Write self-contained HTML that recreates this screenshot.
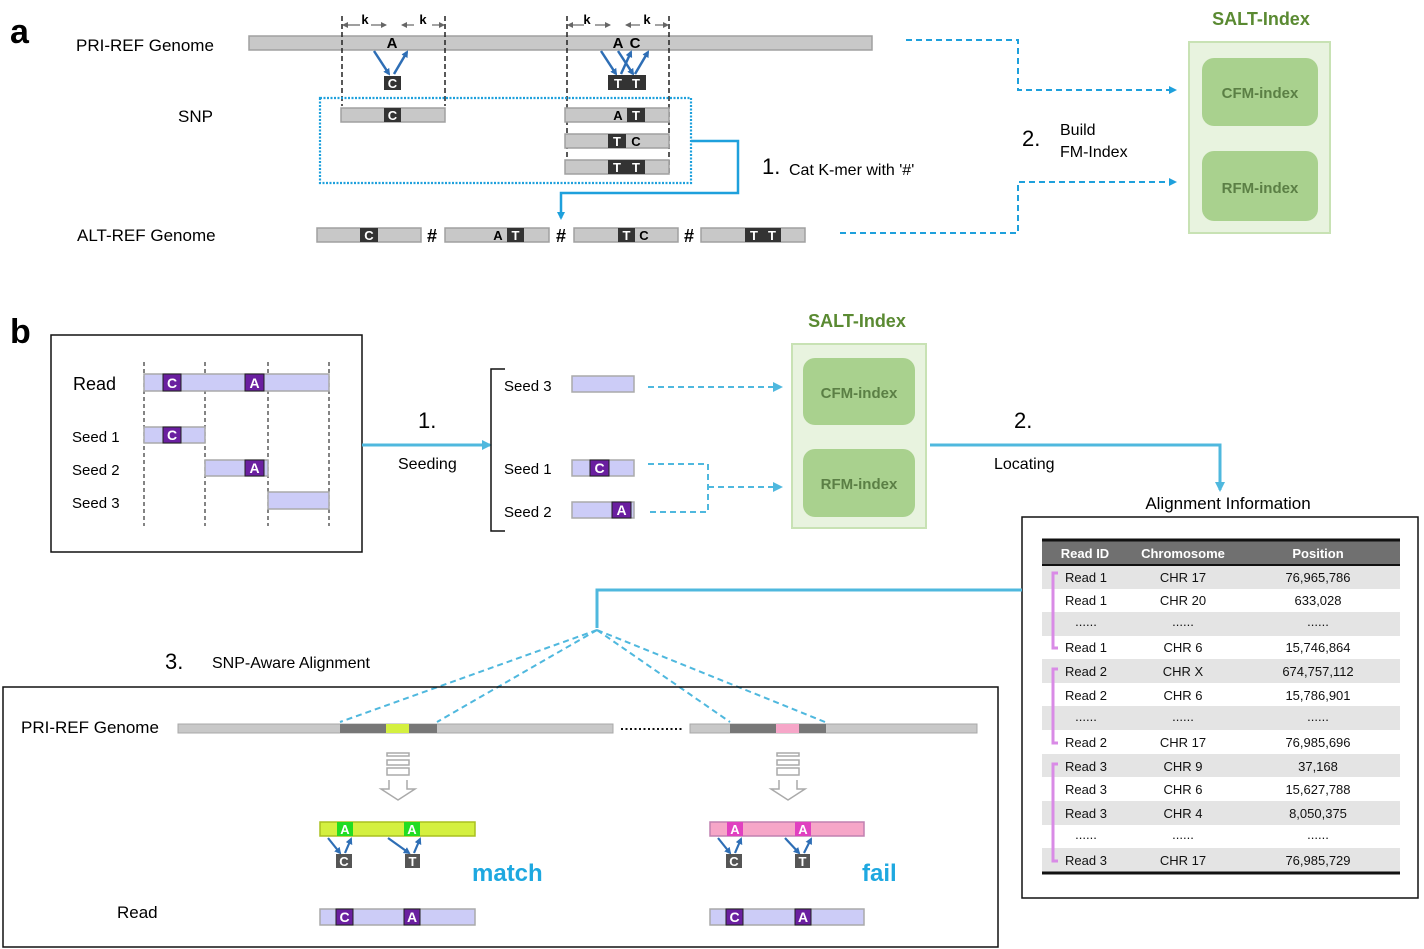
<!DOCTYPE html>
<html><head><meta charset="utf-8"><style>
html,body{margin:0;padding:0;background:#fff}
svg{display:block;font-family:"Liberation Sans",sans-serif}
</style></head><body>
<svg width="1424" height="949" viewBox="0 0 1424 949" xmlns="http://www.w3.org/2000/svg">
<defs>
<marker id="bl" markerWidth="8" markerHeight="8" refX="6" refY="4" orient="auto" markerUnits="userSpaceOnUse"><path d="M0,0 L8,4 L0,8 z" fill="#1ea0dc"/></marker>
<marker id="lb" markerWidth="10" markerHeight="10" refX="8" refY="5" orient="auto" markerUnits="userSpaceOnUse"><path d="M0,0 L10,5 L0,10 z" fill="#4fb8de"/></marker>
<marker id="db" markerWidth="7" markerHeight="7" refX="5" refY="3.5" orient="auto" markerUnits="userSpaceOnUse"><path d="M0,0 L7,3.5 L0,7 z" fill="#2e6eb5"/></marker>
<marker id="gk" markerWidth="6" markerHeight="6" refX="5" refY="3" orient="auto" markerUnits="userSpaceOnUse"><path d="M0,0 L6,3 L0,6 z" fill="#666"/></marker>
</defs>

<!-- ===== a ===== -->
<text x="10" y="43" font-size="34" font-weight="bold">a</text>
<text x="76" y="51" font-size="17">PRI-REF Genome</text>
<rect x="249" y="36" width="623" height="14" fill="#c8c8c8" stroke="#a0a0a0" stroke-width="1.5"/>
<g stroke="#222" stroke-width="1.5" stroke-dasharray="5,3">
<line x1="342" y1="16" x2="342" y2="106"/><line x1="445" y1="16" x2="445" y2="106"/>
<line x1="567" y1="16" x2="567" y2="176"/><line x1="669" y1="16" x2="669" y2="176"/>
</g>
<g stroke="#666" stroke-width="1.2" marker-end="url(#gk)">
<line x1="360" y1="25" x2="343" y2="25"/><line x1="371" y1="25" x2="386" y2="25"/>
<line x1="414" y1="25" x2="402" y2="25"/><line x1="432" y1="25" x2="444" y2="25"/>
<line x1="584" y1="25" x2="568" y2="25"/><line x1="595" y1="25" x2="610" y2="25"/>
<line x1="640" y1="25" x2="626" y2="25"/><line x1="655" y1="25" x2="668" y2="25"/>
</g>
<g font-size="13" font-weight="bold" text-anchor="middle">
<text x="365" y="24">k</text><text x="423" y="24">k</text><text x="587" y="24">k</text><text x="647" y="24">k</text>
</g>
<g font-size="15" font-weight="bold" text-anchor="middle">
<text x="392" y="48">A</text><text x="618" y="48">A</text><text x="635" y="48">C</text>
</g>
<g stroke="#2e6eb5" stroke-width="2.5" marker-end="url(#db)">
<line x1="374" y1="51" x2="389" y2="74"/><line x1="394" y1="74" x2="407" y2="52"/>
<line x1="601" y1="51" x2="616" y2="74"/><line x1="618" y1="51" x2="633" y2="74"/>
<line x1="621" y1="74" x2="631" y2="52"/><line x1="635" y1="74" x2="648" y2="52"/>
</g>
<rect x="384" y="76" width="17" height="14" fill="#333"/>
<text x="392.5" y="88" font-size="13" font-weight="bold" fill="#fff" text-anchor="middle">C</text>
<rect x="608" y="75" width="38" height="15" fill="#333"/>
<text x="618" y="88" font-size="13" font-weight="bold" fill="#fff" text-anchor="middle">T</text>
<text x="636" y="88" font-size="13" font-weight="bold" fill="#fff" text-anchor="middle">T</text>

<rect x="320" y="98" width="371" height="85" fill="none" stroke="#1ea0dc" stroke-width="2.2" stroke-dasharray="2,1.5"/>
<text x="178" y="122" font-size="17">SNP</text>
<g fill="#c8c8c8" stroke="#a0a0a0" stroke-width="1.5">
<rect x="341" y="108" width="104" height="14"/>
<rect x="565" y="108" width="104" height="14"/>
<rect x="565" y="134" width="104" height="14"/>
<rect x="565" y="160" width="104" height="14"/>
</g>
<g fill="#333">
<rect x="384" y="108" width="17" height="14"/><rect x="627" y="108" width="18" height="14"/>
<rect x="608" y="134" width="18" height="14"/><rect x="608" y="160" width="37" height="14"/>
</g>
<g font-size="13" font-weight="bold" text-anchor="middle">
<text x="392.5" y="120" fill="#fff">C</text>
<text x="618" y="120">A</text><text x="636" y="120" fill="#fff">T</text>
<text x="617" y="146" fill="#fff">T</text><text x="636" y="146">C</text>
<text x="617" y="172" fill="#fff">T</text><text x="636" y="172" fill="#fff">T</text>
</g>
<polyline points="691,141 738,141 738,193 561,193 561,218" fill="none" stroke="#1ea0dc" stroke-width="2.5" marker-end="url(#bl)"/>
<text x="762" y="174" font-size="22">1.</text>
<text x="789" y="175" font-size="16">Cat K-mer with '#'</text>

<text x="77" y="241" font-size="17">ALT-REF Genome</text>
<g fill="#c8c8c8" stroke="#a0a0a0" stroke-width="1.5">
<rect x="317" y="228" width="104" height="14"/><rect x="445" y="228" width="104" height="14"/>
<rect x="574" y="228" width="104" height="14"/><rect x="701" y="228" width="104" height="14"/>
</g>
<g fill="#333">
<rect x="360" y="228" width="18" height="14"/><rect x="507" y="228" width="17" height="14"/>
<rect x="618" y="228" width="17" height="14"/><rect x="745" y="228" width="36" height="14"/>
</g>
<g font-size="13" font-weight="bold" text-anchor="middle">
<text x="369" y="240" fill="#fff">C</text>
<text x="498" y="240">A</text><text x="515.5" y="240" fill="#fff">T</text>
<text x="626.5" y="240" fill="#fff">T</text><text x="644" y="240">C</text>
<text x="754" y="240" fill="#fff">T</text><text x="772" y="240" fill="#fff">T</text>
</g>
<g font-size="18" font-weight="bold" text-anchor="middle">
<text x="432" y="242">#</text><text x="561" y="242">#</text><text x="689" y="242">#</text>
</g>
<g fill="none" stroke="#1ea0dc" stroke-width="2" stroke-dasharray="6,4" marker-end="url(#bl)">
<polyline points="906,40 1018,40 1018,90 1175,90"/>
<polyline points="840,233 1018,233 1018,182 1175,182"/>
</g>
<text x="1022" y="146" font-size="22">2.</text>
<text x="1060" y="135" font-size="16">Build</text>
<text x="1060" y="157" font-size="16">FM-Index</text>

<text x="1261" y="25" font-size="18" font-weight="bold" fill="#5a8a32" text-anchor="middle">SALT-Index</text>
<rect x="1189" y="42" width="141" height="191" fill="#e8f3df" stroke="#c8e2b4" stroke-width="2"/>
<rect x="1202" y="58" width="116" height="68" rx="12" fill="#a9d18e"/>
<rect x="1202" y="151" width="116" height="70" rx="12" fill="#a9d18e"/>
<text x="1260" y="98" font-size="15" font-weight="bold" fill="#5b7f45" text-anchor="middle">CFM-index</text>
<text x="1260" y="193" font-size="15" font-weight="bold" fill="#5b7f45" text-anchor="middle">RFM-index</text>

<!-- ===== b ===== -->
<text x="10" y="343" font-size="34" font-weight="bold">b</text>
<rect x="51" y="335" width="311" height="217" fill="none" stroke="#111" stroke-width="1.5"/>
<g stroke="#333" stroke-width="1.2" stroke-dasharray="4,3">
<line x1="144" y1="362" x2="144" y2="526"/><line x1="205" y1="362" x2="205" y2="526"/>
<line x1="268" y1="362" x2="268" y2="526"/><line x1="329" y1="362" x2="329" y2="526"/>
</g>
<text x="73" y="390" font-size="18">Read</text>
<text x="72" y="442" font-size="15">Seed 1</text>
<text x="72" y="475" font-size="15">Seed 2</text>
<text x="72" y="508" font-size="15">Seed 3</text>
<g fill="#ccccf7" stroke="#aaa" stroke-width="1.5">
<rect x="144" y="374" width="185" height="17"/>
<rect x="144" y="427" width="61" height="16"/>
<rect x="205" y="460" width="63" height="16"/>
<rect x="268" y="492" width="61" height="17"/>
<rect x="572" y="376" width="62" height="16"/>
<rect x="572" y="460" width="62" height="16"/>
<rect x="572" y="502" width="62" height="16"/>
<rect x="320" y="909" width="155" height="16"/>
<rect x="710" y="909" width="154" height="16"/>
</g>
<g fill="#6a1fa0" stroke="#222" stroke-width="1">
<rect x="163" y="374" width="18" height="17"/><rect x="245" y="374" width="19" height="17"/>
<rect x="163" y="427" width="18" height="16"/><rect x="245" y="460" width="19" height="16"/>
<rect x="590" y="460" width="19" height="16"/><rect x="612" y="502" width="19" height="16"/>
<rect x="336" y="909" width="17" height="16"/><rect x="404" y="909" width="16" height="16"/>
<rect x="726" y="909" width="17" height="16"/><rect x="795" y="909" width="16" height="16"/>
</g>
<g font-size="14" font-weight="bold" fill="#fff" text-anchor="middle">
<text x="172" y="388">C</text><text x="254.5" y="388">A</text>
<text x="172" y="440">C</text><text x="254.5" y="473">A</text>
<text x="599.5" y="473">C</text><text x="621.5" y="515">A</text>
<text x="344.5" y="922">C</text><text x="412" y="922">A</text>
<text x="734.5" y="922">C</text><text x="803" y="922">A</text>
</g>
<line x1="362" y1="445" x2="490" y2="445" stroke="#4fb8de" stroke-width="3" marker-end="url(#lb)"/>
<text x="418" y="428" font-size="22">1.</text>
<text x="398" y="469" font-size="16">Seeding</text>
<polyline points="505,369 491,369 491,531 505,531" fill="none" stroke="#111" stroke-width="1.5"/>
<text x="504" y="391" font-size="15">Seed 3</text>
<text x="504" y="474" font-size="15">Seed 1</text>
<text x="504" y="517" font-size="15">Seed 2</text>
<g fill="none" stroke="#4fb8de" stroke-width="2" stroke-dasharray="6,4">
<line x1="648" y1="387" x2="781" y2="387" marker-end="url(#lb)"/>
<polyline points="648,464 708,464 708,512 648,512"/>
<line x1="708" y1="487" x2="781" y2="487" marker-end="url(#lb)"/>
</g>
<text x="857" y="327" font-size="18" font-weight="bold" fill="#5a8a32" text-anchor="middle">SALT-Index</text>
<rect x="792" y="344" width="134" height="184" fill="#e8f3df" stroke="#c8e2b4" stroke-width="2"/>
<rect x="803" y="358" width="112" height="67" rx="12" fill="#a9d18e"/>
<rect x="803" y="449" width="112" height="68" rx="12" fill="#a9d18e"/>
<text x="859" y="398" font-size="15" font-weight="bold" fill="#5b7f45" text-anchor="middle">CFM-index</text>
<text x="859" y="489" font-size="15" font-weight="bold" fill="#5b7f45" text-anchor="middle">RFM-index</text>
<polyline points="930,445 1220,445 1220,490" fill="none" stroke="#4fb8de" stroke-width="3" marker-end="url(#lb)"/>
<text x="1014" y="428" font-size="22">2.</text>
<text x="994" y="469" font-size="16">Locating</text>
<text x="1228" y="509" font-size="17" text-anchor="middle">Alignment Information</text>

<!-- table -->
<rect x="1022" y="517" width="396" height="381" fill="none" stroke="#111" stroke-width="1.5"/>
<rect x="1042" y="540" width="358" height="25" fill="#707070"/>
<line x1="1042" y1="540" x2="1400" y2="540" stroke="#111" stroke-width="3"/>
<line x1="1042" y1="565" x2="1400" y2="565" stroke="#111" stroke-width="2"/>
<g fill="#e4e4e4">
<rect x="1042" y="566" width="358" height="23"/><rect x="1042" y="612" width="358" height="24"/>
<rect x="1042" y="659" width="358" height="24"/><rect x="1042" y="706" width="358" height="24"/>
<rect x="1042" y="754" width="358" height="23"/><rect x="1042" y="801" width="358" height="24"/>
<rect x="1042" y="848" width="358" height="24"/>
</g>
<line x1="1042" y1="873" x2="1400" y2="873" stroke="#111" stroke-width="3"/>
<g font-size="13" font-weight="bold" fill="#fff" text-anchor="middle">
<text x="1085" y="558">Read ID</text><text x="1183" y="558">Chromosome</text><text x="1318" y="558">Position</text>
</g>
<g font-size="13" text-anchor="middle" fill="#111">
<text x="1086" y="582">Read 1</text><text x="1183" y="582">CHR 17</text><text x="1318" y="582">76,965,786</text>
<text x="1086" y="605">Read 1</text><text x="1183" y="605">CHR 20</text><text x="1318" y="605">633,028</text>
<text x="1086" y="626">......</text><text x="1183" y="626">......</text><text x="1318" y="626">......</text>
<text x="1086" y="652">Read 1</text><text x="1183" y="652">CHR 6</text><text x="1318" y="652">15,746,864</text>
<text x="1086" y="676">Read 2</text><text x="1183" y="676">CHR X</text><text x="1318" y="676">674,757,112</text>
<text x="1086" y="700">Read 2</text><text x="1183" y="700">CHR 6</text><text x="1318" y="700">15,786,901</text>
<text x="1086" y="721">......</text><text x="1183" y="721">......</text><text x="1318" y="721">......</text>
<text x="1086" y="747">Read 2</text><text x="1183" y="747">CHR 17</text><text x="1318" y="747">76,985,696</text>
<text x="1086" y="771">Read 3</text><text x="1183" y="771">CHR 9</text><text x="1318" y="771">37,168</text>
<text x="1086" y="794">Read 3</text><text x="1183" y="794">CHR 6</text><text x="1318" y="794">15,627,788</text>
<text x="1086" y="818">Read 3</text><text x="1183" y="818">CHR 4</text><text x="1318" y="818">8,050,375</text>
<text x="1086" y="839">......</text><text x="1183" y="839">......</text><text x="1318" y="839">......</text>
<text x="1086" y="865">Read 3</text><text x="1183" y="865">CHR 17</text><text x="1318" y="865">76,985,729</text>
</g>
<g fill="none" stroke="#d98be6" stroke-width="3">
<polyline points="1058,573 1053,573 1053,648 1058,648"/>
<polyline points="1058,669 1053,669 1053,743 1058,743"/>
<polyline points="1058,764 1053,764 1053,861 1058,861"/>
</g>

<!-- step 3 -->
<polyline points="1022,590 597,590 597,628" fill="none" stroke="#4fb8de" stroke-width="3"/>
<g stroke="#4fb8de" stroke-width="2" stroke-dasharray="6,4">
<line x1="597" y1="630" x2="340" y2="722"/><line x1="597" y1="630" x2="437" y2="722"/>
<line x1="597" y1="630" x2="730" y2="722"/><line x1="597" y1="630" x2="825" y2="722"/>
</g>
<text x="165" y="669" font-size="22">3.</text>
<text x="212" y="668" font-size="16">SNP-Aware Alignment</text>
<rect x="3" y="687" width="995" height="260" fill="none" stroke="#111" stroke-width="1.5"/>
<text x="21" y="733" font-size="17">PRI-REF Genome</text>
<g fill="#c8c8c8" stroke="#a8a8a8" stroke-width="1">
<rect x="178" y="724" width="435" height="9"/><rect x="690" y="724" width="287" height="9"/>
</g>
<rect x="340" y="724" width="46" height="9" fill="#777"/>
<rect x="386" y="724" width="23" height="9" fill="#d4f040"/>
<rect x="409" y="724" width="28" height="9" fill="#777"/>
<rect x="730" y="724" width="46" height="9" fill="#777"/>
<rect x="776" y="724" width="23" height="9" fill="#f6a6c8"/>
<rect x="799" y="724" width="27" height="9" fill="#777"/>
<line x1="621" y1="729" x2="683" y2="729" stroke="#111" stroke-width="2" stroke-dasharray="2,2.5"/>
<g fill="none" stroke="#aaa" stroke-width="1.5">
<rect x="387" y="753" width="22" height="3"/><rect x="387" y="760" width="22" height="5"/><rect x="387" y="768" width="22" height="7"/>
<path d="M389,780 L389,789 L381,789 L398,800 L415,789 L407,789 L407,780"/>
<rect x="777" y="753" width="22" height="3"/><rect x="777" y="760" width="22" height="5"/><rect x="777" y="768" width="22" height="7"/>
<path d="M779,780 L779,789 L771,789 L788,800 L805,789 L797,789 L797,780"/>
</g>
<rect x="320" y="822" width="155" height="14" fill="#d4f040" stroke="#aac020" stroke-width="1.5"/>
<rect x="337" y="822" width="16" height="14" fill="#22dd22"/><rect x="404" y="822" width="16" height="14" fill="#22dd22"/>
<rect x="710" y="822" width="154" height="14" fill="#f6a6c8" stroke="#c080b0" stroke-width="1.5"/>
<rect x="727" y="822" width="16" height="14" fill="#e040c0"/><rect x="795" y="822" width="16" height="14" fill="#e040c0"/>
<g font-size="13" font-weight="bold" fill="#fff" text-anchor="middle">
<text x="345" y="834">A</text><text x="412" y="834">A</text><text x="735" y="834">A</text><text x="803" y="834">A</text>
</g>
<g stroke="#2e6eb5" stroke-width="2.2" marker-end="url(#db)">
<line x1="328" y1="838" x2="340" y2="853"/><line x1="345" y1="853" x2="351" y2="839"/>
<line x1="388" y1="838" x2="409" y2="853"/><line x1="414" y1="853" x2="420" y2="839"/>
<line x1="718" y1="838" x2="730" y2="853"/><line x1="735" y1="853" x2="741" y2="839"/>
<line x1="785" y1="838" x2="799" y2="853"/><line x1="804" y1="853" x2="811" y2="839"/>
</g>
<g fill="#555">
<rect x="336" y="854" width="16" height="14"/><rect x="405" y="854" width="15" height="14"/>
<rect x="726" y="854" width="16" height="14"/><rect x="795" y="854" width="15" height="14"/>
</g>
<g font-size="13" font-weight="bold" fill="#fff" text-anchor="middle">
<text x="344" y="866">C</text><text x="412.5" y="866">T</text><text x="734" y="866">C</text><text x="802.5" y="866">T</text>
</g>
<text x="472" y="881" font-size="24" font-weight="bold" fill="#1ea8e0">match</text>
<text x="862" y="881" font-size="24" font-weight="bold" fill="#1ea8e0">fail</text>
<text x="117" y="918" font-size="17">Read</text>
</svg>
</body></html>
